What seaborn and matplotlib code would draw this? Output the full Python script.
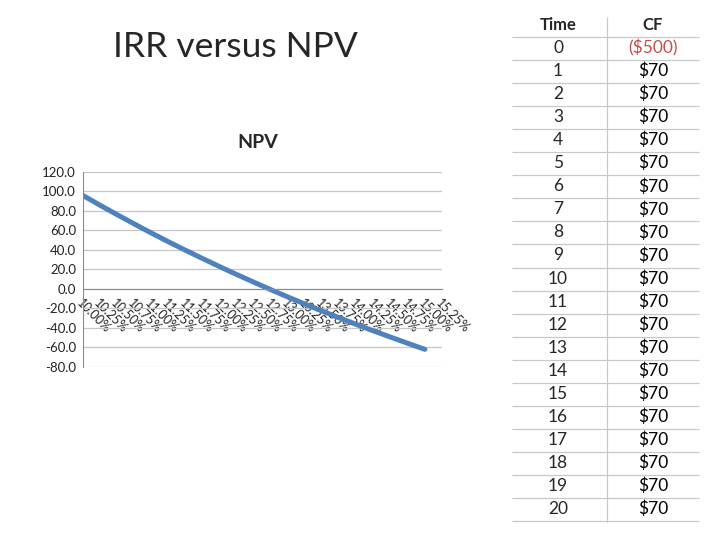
import numpy as np
import pandas as pd
import seaborn as sns
import matplotlib.pyplot as plt
from matplotlib.ticker import FormatStrFormatter

# Дані: ставка дисконтування (%) та NPV
rates = [10.00, 10.25, 10.50, 10.75, 11.00, 11.25, 11.50, 11.75, 12.00, 12.25, 12.50,
         12.75, 13.00, 13.25, 13.50, 13.75, 14.00, 14.25, 14.50, 14.75, 15.00, 15.25]
npv = [95.9, 85.9, 76.2, 66.7, 57.4, 48.4, 39.7, 31.2, 22.9, 14.8, 6.9,
       -0.8, -8.3, -15.6, -22.7, -29.6, -36.4, -43.0, -49.4, -55.7, -61.9]

# Таблиця грошових потоків
times = [0, 1, 2, 3, 4, 5, 6, 7, 8, 9, 10, 11, 12, 13, 14, 15, 16, 17, 18, 19, 20]
cf_labels = ["($500)"] + ["$70"] * 20

df = pd.DataFrame({"rate": rates[:len(npv)], "npv": npv})

sns.set_style("white")
plt.rcParams['font.family'] = ['Lato', 'DejaVu Sans']

fig = plt.figure(figsize=(7.2, 5.4), dpi=100)

# Графік NPV
ax = fig.add_axes([83 / 720, 1 - 367 / 540, 359 / 720, 195 / 540])
sns.lineplot(data=df, x="rate", y="npv", ax=ax, color="#4f81bd", linewidth=3.6)
for s in ['top', 'right']:
    ax.spines[s].set_visible(False)
ax.spines['left'].set_color('#8c8c8c')
ax.spines['bottom'].set_color('#8c8c8c')
ax.spines['bottom'].set_position(('data', 0))
ax.set_xlim(rates[0], rates[-1])
ax.set_ylim(-80, 120)
ax.set_yticks(np.arange(-80, 121, 20))
ax.yaxis.set_major_formatter(FormatStrFormatter('%.1f'))
ax.set_xticks(rates)
ax.set_xticklabels([f"{r:.2f}%" for r in rates], rotation=-45, ha='left', va='top',
                   rotation_mode='anchor')
ax.set_xlabel("")
ax.set_ylabel("")
ax.grid(axis='y', color='#c6c6c6', linewidth=0.9)
ax.set_axisbelow(True)
ax.tick_params(axis='y', length=0, pad=5, labelsize=9.5, labelcolor='#222222')
ax.tick_params(axis='x', direction='in', length=4, color='#8c8c8c', pad=6,
               labelsize=9, labelcolor='#222222')
fig.text(258 / 720, 1 - 142 / 540, "NPV", ha='center', va='center',
         fontsize=14, fontweight='bold')

# Заголовок слайда
fig.text(113 / 720, 1 - 47 / 540, "IRR versus NPV", ha='left', va='center', fontsize=25.5)

# Таблиця
tab = fig.add_axes([0, 0, 1, 1])
tab.set_xlim(0, 720)
tab.set_ylim(540, 0)
tab.axis('off')
row_h = 23.05
tab.text(558, 25, "Time", ha='center', va='center', fontsize=12, fontweight='bold')
tab.text(653, 25, "CF", ha='center', va='center', fontsize=12, fontweight='bold')
for i, (t, c) in enumerate(zip(times, cf_labels)):
    y = 48 + row_h * i
    tab.text(558, y, str(t), ha='center', va='center', fontsize=12.5)
    tab.text(653, y, c, ha='center', va='center', fontsize=12.5,
             color='#c0504d' if c.startswith('(') else 'black')
    tab.hlines(37 + row_h * (i + 1), 512, 699, color='#c8c8c8', linewidth=0.9)
tab.hlines(37, 512, 699, color='#c8c8c8', linewidth=0.9)
tab.vlines(607, 17, 522, color='#c8c8c8', linewidth=0.9)

plt.savefig("out.png", dpi=100)
